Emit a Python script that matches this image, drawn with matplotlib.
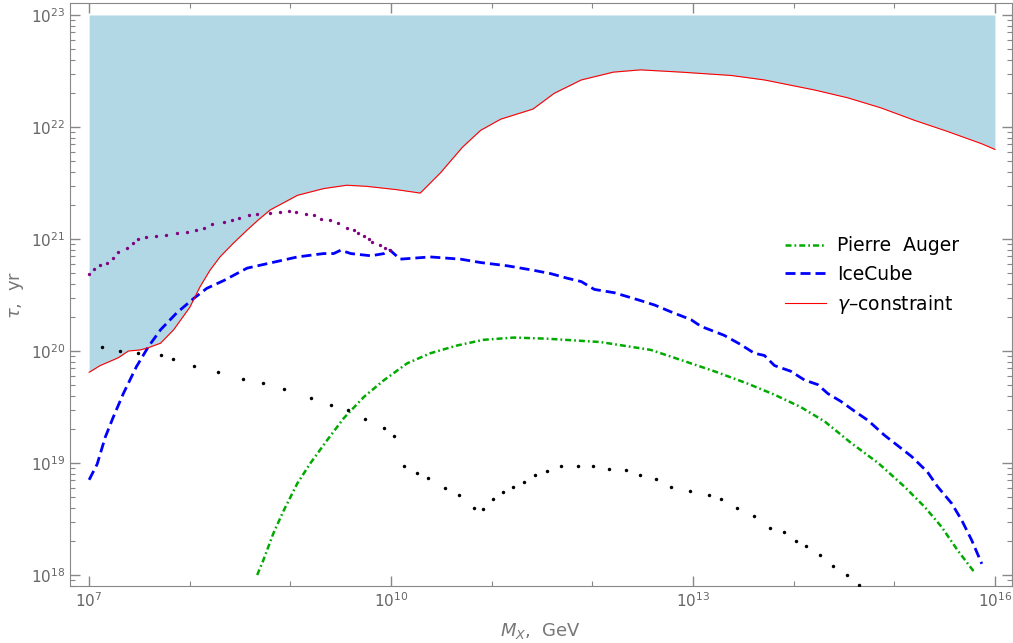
import numpy as np
import matplotlib
matplotlib.use("Agg")
import matplotlib.pyplot as plt
from matplotlib.ticker import LogLocator, NullFormatter, FixedLocator

# all values are log10 exponents: x = log10(M_X / GeV), y = log10(tau / yr)
gamma_x = [7.0, 7.11, 7.29, 7.39, 7.51, 7.59, 7.71, 7.84, 8.0, 8.10, 8.20, 8.30, 8.43,
           8.57, 8.68, 8.80, 9.07, 9.33, 9.56, 9.76, 10.06, 10.29, 10.49, 10.71, 10.89,
           11.09, 11.41, 11.62, 11.89, 12.21, 12.48, 12.88, 13.38, 13.71, 14.21, 14.54,
           14.87, 15.20, 15.53, 15.87, 16.0]
gamma_y = [19.81, 19.87, 19.94, 20.0, 20.01, 20.03, 20.07, 20.19, 20.39, 20.57, 20.72,
           20.84, 20.96, 21.08, 21.17, 21.26, 21.39, 21.45, 21.48, 21.47, 21.44, 21.41,
           21.59, 21.82, 21.97, 22.07, 22.16, 22.30, 22.42, 22.49, 22.51, 22.49, 22.46,
           22.42, 22.33, 22.26, 22.17, 22.06, 21.96, 21.85, 21.80]

icecube_x = [7.0, 7.08, 7.16, 7.24, 7.34, 7.47, 7.59, 7.71, 7.87, 8.04, 8.17, 8.34, 8.57,
             8.77, 9.07, 9.33, 9.43, 9.50, 9.60, 9.80, 9.93, 9.99, 10.09, 10.39, 10.69,
             10.89, 11.16, 11.42, 11.59, 11.75, 11.89, 12.02, 12.22, 12.48, 12.62, 12.78,
             12.98, 13.08, 13.31, 13.47, 13.61, 13.71, 13.81, 13.97, 14.11, 14.24, 14.34,
             14.47, 14.61, 14.74, 14.90, 15.17, 15.33, 15.43, 15.57, 15.67, 15.77, 15.87]
icecube_y = [18.85, 18.99, 19.23, 19.41, 19.62, 19.86, 20.04, 20.19, 20.34, 20.47, 20.56,
             20.63, 20.74, 20.78, 20.84, 20.87, 20.87, 20.90, 20.87, 20.85, 20.87, 20.90,
             20.82, 20.84, 20.82, 20.79, 20.76, 20.72, 20.69, 20.65, 20.62, 20.55, 20.52,
             20.45, 20.41, 20.35, 20.28, 20.22, 20.14, 20.06, 19.98, 19.96, 19.87, 19.82,
             19.74, 19.70, 19.62, 19.55, 19.46, 19.38, 19.25, 19.06, 18.92, 18.79, 18.64,
             18.49, 18.31, 18.10]

auger_x = [8.67, 8.73, 8.83, 8.93, 9.07, 9.20, 9.37, 9.53, 9.73, 9.93, 10.16, 10.39, 10.66,
           10.92, 11.22, 11.55, 12.08, 12.58, 12.88, 13.21, 13.54, 13.81, 14.07, 14.31,
           14.57, 14.84, 15.10, 15.30, 15.47, 15.63, 15.80]
auger_y = [18.0, 18.13, 18.37, 18.57, 18.82, 19.0, 19.21, 19.40, 19.59, 19.74, 19.89, 19.98,
           20.05, 20.10, 20.12, 20.11, 20.08, 20.01, 19.92, 19.82, 19.71, 19.61, 19.50,
           19.37, 19.18, 19.0, 18.79, 18.61, 18.43, 18.22, 18.02]

purple_x = [7.0, 7.05, 7.11, 7.18, 7.24, 7.29, 7.38, 7.44, 7.49, 7.57, 7.66, 7.76, 7.87,
            7.97, 8.06, 8.14, 8.22, 8.34, 8.42, 8.49, 8.59, 8.67, 8.80, 8.90, 8.99, 9.06,
            9.15, 9.23, 9.30, 9.39, 9.47, 9.56, 9.63, 9.67, 9.73, 9.78, 9.81, 9.89, 9.94, 9.99]
purple_y = [20.69, 20.73, 20.77, 20.79, 20.83, 20.88, 20.92, 20.96, 21.0, 21.02, 21.03,
            21.04, 21.05, 21.06, 21.08, 21.10, 21.13, 21.15, 21.17, 21.19, 21.21, 21.22,
            21.23, 21.24, 21.25, 21.24, 21.22, 21.21, 21.18, 21.17, 21.14, 21.10, 21.08,
            21.05, 21.03, 21.0, 20.97, 20.95, 20.92, 20.90]

black_x = [7.13, 7.31, 7.49, 7.71, 7.83, 8.04, 8.28, 8.53, 8.73, 8.94, 9.20, 9.40, 9.57,
           9.74, 9.93, 10.03, 10.13, 10.26, 10.37, 10.54, 10.68, 10.82, 10.91, 11.01, 11.11,
           11.21, 11.32, 11.43, 11.55, 11.69, 11.86, 12.01, 12.17, 12.33, 12.47, 12.63,
           12.78, 12.97, 13.16, 13.28, 13.44, 13.61, 13.77, 13.90, 14.02, 14.12, 14.26,
           14.39, 14.53, 14.65]
black_y = [20.04, 20.00, 19.98, 19.96, 19.93, 19.87, 19.81, 19.75, 19.71, 19.66, 19.58,
           19.52, 19.47, 19.39, 19.31, 19.24, 18.97, 18.91, 18.87, 18.78, 18.71, 18.60,
           18.59, 18.68, 18.74, 18.79, 18.83, 18.89, 18.93, 18.97, 18.97, 18.97, 18.95,
           18.94, 18.89, 18.86, 18.79, 18.75, 18.71, 18.68, 18.60, 18.53, 18.42, 18.38,
           18.30, 18.26, 18.18, 18.08, 18.00, 17.91]

fill_top = 23.0
x_labels = [7, 10, 13, 16]


def p(v):
    return 10.0 ** np.asarray(v)


fig = plt.figure(figsize=(10.13, 6.43), dpi=100)
ax = fig.add_axes([70 / 1013, 57 / 643, 942 / 1013, 583 / 643])

ax.fill_between(p(gamma_x), p(gamma_y), 10.0 ** fill_top, color="#b2d8e5", lw=0, zorder=1)
ax.plot(p(gamma_x), p(gamma_y), color="red", lw=0.8, zorder=4, label=r"$\gamma$–constraint")
ax.plot(p(icecube_x), p(icecube_y), color="#0000ff", lw=2.0, dashes=(3.6, 1.8), zorder=3,
        label="IceCube")
ax.plot(p(auger_x), p(auger_y), color="#00aa00", lw=1.8, dashes=(2.4, 1.2, 0.7, 1.2),
        zorder=3, label="Pierre  Auger")
ax.plot(p(purple_x), p(purple_y), "o", color="#800080", ms=2.4, mew=0, zorder=5)
ax.plot(p(black_x), p(black_y), "o", color="black", ms=2.5, mew=0, zorder=5)

ax.set_xscale("log")
ax.set_yscale("log")
ax.set_xlim(10 ** 6.81, 10 ** 16.17)
ax.set_ylim(10 ** 17.902, 10 ** 23.107)

gray = "#888888"
ax.xaxis.set_major_locator(FixedLocator(p(x_labels)))
ax.xaxis.set_minor_locator(FixedLocator(p([8, 9, 11, 12, 14, 15])))
ax.xaxis.set_minor_formatter(NullFormatter())
ax.yaxis.set_major_locator(LogLocator(base=10, numticks=20))
ax.yaxis.set_minor_locator(LogLocator(base=10, subs=np.arange(2, 10), numticks=20))
ax.yaxis.set_minor_formatter(NullFormatter())
ax.tick_params(which="both", direction="in", top=True, right=True, color=gray,
               labelcolor="#666666", labelsize=11)
ax.tick_params(which="major", length=7, width=1.0)
ax.tick_params(which="minor", length=3.5, width=0.8)
for s in ax.spines.values():
    s.set_color(gray)

ax.set_xlabel(r"$M_X$,  GeV", color="#777777", fontsize=13, labelpad=8)
ax.set_ylabel(r"$\tau$,  yr", color="#777777", fontsize=13, labelpad=3)

h, l = ax.get_legend_handles_labels()
ax.legend(h[::-1], l[::-1], loc="center left", bbox_to_anchor=(768 / 1013, 1 - 276 / 643),
          bbox_transform=fig.transFigure, frameon=False, fontsize=13.5, handlelength=2.2,
          handletextpad=0.6, labelspacing=0.5)

fig.savefig("out.png", dpi=100)
